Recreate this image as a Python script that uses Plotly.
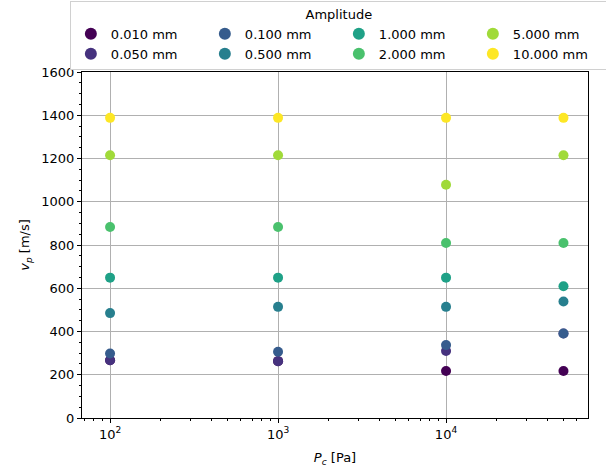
import plotly.graph_objects as go

# Confining pressure values (Pa)
pc = [100, 1000, 10000, 50000]

# Amplitude labels and P-wave velocities (m/s) at each pressure
amplitudes = ["0.010 mm", "0.050 mm", "0.100 mm", "0.500 mm",
              "1.000 mm", "2.000 mm", "5.000 mm", "10.000 mm"]
vp_001 = [267, 263, 217, 217]
vp_005 = [267, 263, 310, 391]
vp_010 = [298, 306, 337, 391]
vp_050 = [485, 514, 514, 539]
vp_100 = [649, 649, 649, 609]
vp_200 = [883, 883, 809, 809]
vp_500 = [1215, 1215, 1079, 1215]
vp_1000 = [1388, 1388, 1388, 1388]

series = [vp_001, vp_005, vp_010, vp_050, vp_100, vp_200, vp_500, vp_1000]
colors = ["#440154", "#46327e", "#365c8d", "#277f8e",
          "#1fa187", "#4ac16d", "#a0da39", "#fde725"]

# legend laid out column-wise in 4 columns of 2 rows
legend_rank = [1, 5, 2, 6, 3, 7, 4, 8]

fig = go.Figure()
for name, vals, col, rank in zip(amplitudes, series, colors, legend_rank):
    fig.add_trace(go.Scatter(
        x=pc, y=vals, mode="markers", name=name,
        marker=dict(color=col, size=10, line=dict(width=0)),
        legendrank=rank,
    ))

axis_common = dict(
    showline=True, linecolor="black", linewidth=1, mirror=True,
    ticks="outside", ticklen=4, tickcolor="black",
    showgrid=True, gridcolor="#b0b0b0", gridwidth=1,
    zeroline=False,
    tickfont=dict(size=13, color="black"),
)

fig.update_xaxes(
    type="log", range=[1.833, 4.845],
    tickvals=[100, 1000, 10000],
    ticktext=["10<sup>2</sup>", "10<sup>3</sup>", "10<sup>4</sup>"],
    title=dict(text="<i>P</i><sub><i>c</i></sub> [Pa]", font=dict(size=13, color="black"), standoff=12),
    minor=dict(ticks="outside", ticklen=2, tickcolor="black", showgrid=False,
               tickvals=[70, 80, 90, 200, 300, 400, 500, 600, 700, 800, 900,
                         2000, 3000, 4000, 5000, 6000, 7000, 8000, 9000,
                         20000, 30000, 40000, 50000, 60000]),
    **axis_common,
)
fig.update_yaxes(
    range=[0, 1600], dtick=200,
    title=dict(text="<i>v</i><sub><i>p</i></sub> [m/s]", font=dict(size=13, color="black"), standoff=8),
    minor=dict(ticks="outside", ticklen=2, tickcolor="black", dtick=50, showgrid=False),
    **axis_common,
)

fig.update_layout(
    width=606, height=472,
    margin=dict(l=82, r=18, t=72, b=54, autoexpand=False),
    paper_bgcolor="white", plot_bgcolor="white",
    font=dict(family="DejaVu Sans", size=13, color="black"),
    legend=dict(
        orientation="h", x=-0.024, xanchor="left", y=1.006, yanchor="bottom",
        title=dict(text="Amplitude", side="top center", font=dict(size=13)),
        entrywidth=89, entrywidthmode="pixels",
        bordercolor="#d0d0d0", borderwidth=1, bgcolor="white",
        font=dict(size=13), itemsizing="constant", tracegroupgap=0,
    ),
)

fig.write_html("out.html")
